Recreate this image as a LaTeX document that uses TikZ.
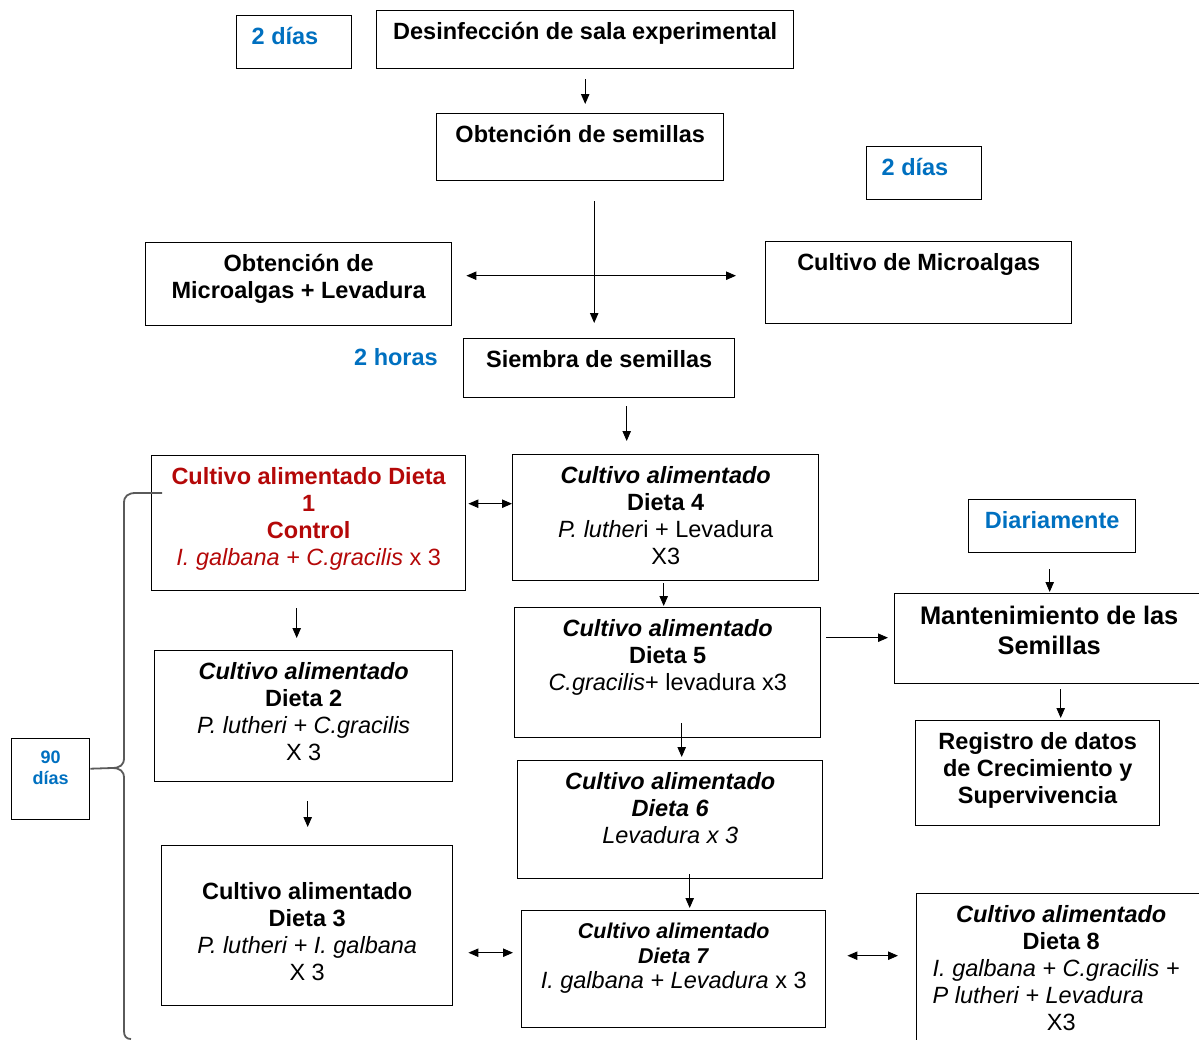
\documentclass[tikz,border=0pt]{standalone}
\usepackage{fontspec}
\setmainfont{Liberation Sans}
\usepackage{xcolor}
\usetikzlibrary{arrows.meta}
\definecolor{azulTexto}{RGB}{0,112,192}
\definecolor{rojoTexto}{RGB}{180,8,8}
\definecolor{grisLlave}{RGB}{90,90,90}
\newcommand{\cuadro}[4][5pt]{\parbox[c][#3][t]{#2}{\centering\vspace*{#1}\strut#4}}

\begin{document}
\begin{tikzpicture}[
  x=0.5pt, y=-0.5pt,
  caja/.style={draw, line width=0.7pt, inner sep=0pt, anchor=north west, font=\fontsize{11.75}{13.5}\selectfont},
  flecha/.style={-{Triangle[length=5pt,width=4.2pt]}, line width=0.5pt},
  doble/.style={{Triangle[length=5pt,width=4.2pt]}-{Triangle[length=5pt,width=4.2pt]}, line width=0.5pt},
  azul/.style={color=azulTexto, font=\fontsize{11.75}{13.5}\selectfont\bfseries},
  llave/.style={draw=grisLlave, line width=0.9pt},
]
\useasboundingbox (0,0) rectangle (1199,1039);

% preparacion
\node[caja] (dias1) at (236,15) {\cuadro{57.5pt}{26.5pt}{\raggedright\hspace*{7.5pt}\textcolor{azulTexto}{\textbf{2 días}}}};
\node[caja] (des) at (376,10) {\cuadro{208.5pt}{29pt}{\textbf{Desinfección de sala experimental}}};
\node[caja] (semillas) at (436,113) {\cuadro{143.5pt}{33.5pt}{\textbf{Obtención de semillas}}};
\node[caja] (dias2) at (866,146) {\cuadro{57.5pt}{26.5pt}{\raggedright\hspace*{7.5pt}\textcolor{azulTexto}{\textbf{2 días}}}};
\node[caja] (microLev) at (145,242) {\cuadro{153pt}{41.5pt}{\textbf{Obtención de}\\\textbf{Microalgas + Levadura}}};
\node[caja] (cultivoMicro) at (765,241) {\cuadro{153pt}{41pt}{\textbf{Cultivo de Microalgas}}};
\node[azul] (horas) at (396,357) {2 horas};
\node[caja] (siembra) at (463,338) {\cuadro{135.5pt}{29.5pt}{\textbf{Siembra de semillas}}};

% dietas
\node[caja, text=rojoTexto] (d1) at (151,455) {\cuadro{157pt}{67.5pt}{\textbf{Cultivo alimentado Dieta}\\\textbf{1}\\\textbf{Control}\\\textit{I. galbana + C.gracilis} x 3}};
\node[caja] (d4) at (512,454) {\cuadro{153pt}{63pt}{\textbf{\textit{Cultivo alimentado}}\\\textbf{Dieta 4}\\\textit{P. luther}i + Levadura\\X3}};
\node[caja] (d5) at (514,607) {\cuadro{153pt}{65pt}{\textbf{\textit{Cultivo alimentado}}\\\textbf{Dieta 5}\\\textit{C.gracilis}+ levadura x3}};
\node[caja] (d2) at (154,650) {\cuadro{149pt}{65.5pt}{\textbf{\textit{Cultivo alimentado}}\\\textbf{Dieta 2}\\\textit{P. lutheri + C.gracilis}\\X 3}};
\node[caja] (d3) at (161,845) {\cuadro[17.5pt]{145.5pt}{80pt}{\textbf{Cultivo alimentado}\\\textbf{Dieta 3}\\\textit{P. lutheri + I. galbana}\\X 3}};
\node[caja] (d6) at (517,760) {\cuadro{152.5pt}{59pt}{\textbf{\textit{Cultivo alimentado}}\\\textbf{\textit{Dieta 6}}\\\textit{Levadura x 3}}};
\node[caja, font=\fontsize{11.75}{12.5}\selectfont] (d7) at (521,910) {\cuadro{152pt}{58.5pt}{{\fontsize{10.7}{12.5}\selectfont\textbf{\textit{Cultivo alimentado}}\\\textbf{\textit{Dieta 7}}}\\\textit{I. galbana + Levadura} x 3}};
\node[caja] (d8) at (916,893) {\cuadro{144.5pt}{76pt}{\textbf{\textit{Cultivo alimentado}}\\\textbf{Dieta 8}\\\makebox[144.5pt][l]{\hspace*{8pt}\textit{I. galbana + C.gracilis +}}\\\makebox[144.5pt][l]{\hspace*{8pt}\textit{P lutheri + Levadura}}\\X3}};

% seguimiento
\node[caja] (diar) at (968,499) {\cuadro{83.5pt}{26.5pt}{\textcolor{azulTexto}{\textbf{Diariamente}}}};
\node[caja, font=\fontsize{12.7}{15}\selectfont] (mant) at (894,593) {\cuadro{154.5pt}{45pt}{\textbf{Mantenimiento de las}\\\textbf{Semillas}}};
\node[caja] (reg) at (915,720) {\cuadro{122pt}{52.5pt}{\textbf{Registro de datos}\\\textbf{de Crecimiento y}\\\textbf{Supervivencia}}};
\node[caja, font=\fontsize{9}{10.5}\selectfont] (n90) at (11,738) {\cuadro{39pt}{40.5pt}{\textcolor{azulTexto}{\textbf{90}}\\\textcolor{azulTexto}{\textbf{días}}}};

% flechas
\draw[flecha, shorten <=5pt, shorten >=4.5pt] (des.south) -- (des.south |- semillas.north);
\draw[flecha, shorten <=10pt, shorten >=7.5pt] ([xshift=7pt]semillas.south) -- ([xshift=7pt]semillas.south |- siembra.north);
\draw[doble, shorten <=7pt, shorten >=14.5pt] ([yshift=4.25pt]microLev.east) -- ([yshift=4.25pt]microLev.east -| cultivoMicro.west);
\draw[flecha, shorten <=4pt, shorten >=6.5pt] ([xshift=13.75pt]siembra.south) -- ([xshift=13.75pt]siembra.south |- d4.north);
\draw[doble, shorten <=1pt, shorten >=0pt] ([yshift=9.75pt]d1.east) -- ([yshift=9.75pt]d1.east -| d4.west);
\draw[flecha, shorten <=1pt, shorten >=0.5pt] ([xshift=-1pt]d4.south) -- ([xshift=-1pt]d4.south |- d5.north);
\draw[flecha, shorten <=2.5pt, shorten >=3pt] ([yshift=17.5pt]d5.east) -- ([yshift=17.5pt]d5.east -| mant.west);
\draw[flecha, shorten <=8pt, shorten >=0.5pt] ([xshift=-1.25pt]diar.south) -- ([xshift=-1.25pt]diar.south |- mant.north);
\draw[flecha, shorten <=2.5pt, shorten >=1pt] ([xshift=5.75pt]mant.south) -- ([xshift=5.75pt]mant.south |- reg.north);
\draw[flecha, shorten <=8.5pt, shorten >=6pt] ([xshift=-6pt]d1.south) -- ([xshift=-6pt]d1.south |- d2.north);
\draw[flecha, shorten <=9.5pt, shorten >=9pt] ([xshift=2pt]d2.south) -- ([xshift=2pt]d2.south |- d3.north);
\draw[flecha, shorten <=-7.5pt, shorten >=1.5pt] ([xshift=7pt]d5.south) -- ([xshift=7pt]d5.south |- d6.north);
\draw[flecha, shorten <=-2.5pt, shorten >=1pt] ([xshift=9.75pt]d6.south) -- ([xshift=9.75pt]d6.south |- d7.north);
\draw[doble, shorten <=7.5pt, shorten >=4pt] ([yshift=-13.5pt]d3.east) -- ([yshift=-13.5pt]d3.east -| d7.west);
\draw[doble, shorten <=10.5pt, shorten >=9pt] ([yshift=6.75pt]d7.east) -- ([yshift=6.75pt]d7.east -| d8.west);

% llave de 90 dias
\draw[llave] ([yshift=5.25pt]n90.east) -- (112,768) .. controls (120,768) and (124,765) .. (124,758) -- (124,503) .. controls (124,496) and (128,493) .. (136,493) -- (162,493);
\draw[llave] (112,768) .. controls (120,768) and (124,771) .. (124,778) -- (124,1031) .. controls (124,1036) and (126,1039) .. (131,1039);
\end{tikzpicture}
\end{document}
